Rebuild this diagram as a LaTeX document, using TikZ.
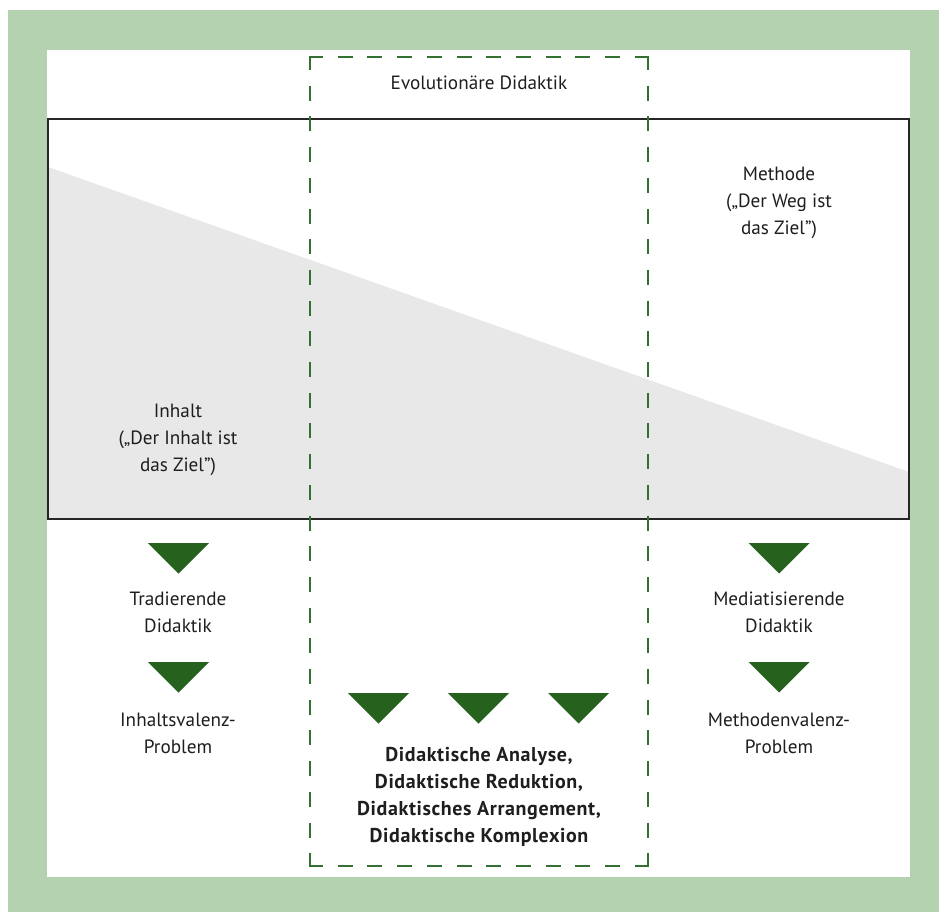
\documentclass[tikz,border=0pt]{standalone}
\usepackage{fontspec}
\setmainfont{PT Sans}
\definecolor{bggreen}{RGB}{180,210,175}
\definecolor{trigreen}{RGB}{38,98,30}
\definecolor{dashgreen}{RGB}{52,112,52}
\definecolor{wedge}{RGB}{232,232,232}
\definecolor{txt}{RGB}{30,30,30}
\tikzset{
  lbl/.style={align=center, text=txt, inner sep=0pt, font=\fontsize{19.2}{27}\selectfont},
  blbl/.style={lbl, font=\fontsize{20}{27.2}\selectfont\bfseries\addfontfeature{LetterSpace=3}},
  evoside/.style={draw=dashgreen, line width=1.8pt},
  pics/downtri/.style={code={\fill[trigreen] (-30.5,0) -- (30.5,0) -- (0,30.5) -- cycle;}}
}
\begin{document}
\begin{tikzpicture}[x=1pt,y=-1pt]
\useasboundingbox (0,0) rectangle (939,912);
% background
\fill[white] (0,0) rectangle (939,912);
\fill[bggreen] (8,10) rectangle (939,912);
\fill[white] (47,50) rectangle (910,877);
% wedge
\fill[wedge] (48,167) -- (909,472) -- (909,519) -- (48,519) -- cycle;
\draw[black!85, line width=1.2pt] (48,119) rectangle (909,519);
% dashed frame (Evolutionaere Didaktik)
\coordinate (tl) at (310,57);
\coordinate (tr) at (648,57);
\coordinate (bl) at (310,866);
\coordinate (br) at (648,866);
\draw[evoside] ([yshift=-13]tl) -- (tl) -- ([xshift=13]tl);
\draw[evoside] ([xshift=-13]tr) -- (tr) -- ([yshift=-13]tr);
\draw[evoside] ([yshift=13]bl) -- (bl) -- ([xshift=13]bl);
\draw[evoside] ([xshift=-13]br) -- (br) -- ([yshift=13]br);
\draw[evoside, dash pattern=on 15pt off 14.7pt, dash phase=15pt] ([xshift=13]tl) -- ([xshift=-13]tr);
\draw[evoside, dash pattern=on 15pt off 14.7pt, dash phase=15pt] ([xshift=13]bl) -- ([xshift=-13]br);
\draw[evoside, dash pattern=on 15pt off 15.7pt, dash phase=15pt] ([yshift=-13]tl) -- ([yshift=13]bl);
\draw[evoside, dash pattern=on 15pt off 15.7pt, dash phase=15pt] ([yshift=-13]tr) -- ([yshift=13]br);
% texts
\node[lbl] (evo) at (479,83) {Evolutionäre Didaktik};
\node[lbl] (methode) at (779,203) {Methode\\(„Der Weg ist\\das Ziel”)};
\node[lbl] (inhalt) at (178,440) {Inhalt\\(„Der Inhalt ist\\das Ziel”)};
\node[lbl] (trad) at (178,612) {Tradierende\\Didaktik};
\node[lbl] (ivp) at (178,733) {Inhaltsvalenz-\\Problem};
\node[lbl] (med) at (779,612) {Mediatisierende\\Didaktik};
\node[lbl] (mvp) at (779,733) {Methodenvalenz-\\Problem};
\node[blbl] (ana) at (479,797) {Didaktische Analyse,\\Didaktische Reduktion,\\Didaktisches Arrangement,\\Didaktische Komplexion};
% triangles
\pic at (178.5,543) {downtri};
\pic at (178.5,662) {downtri};
\pic at (779,543) {downtri};
\pic at (779,662) {downtri};
\pic at (378.5,693) {downtri};
\pic at (478.5,693) {downtri};
\pic at (578.5,693) {downtri};
\end{tikzpicture}
\end{document}
